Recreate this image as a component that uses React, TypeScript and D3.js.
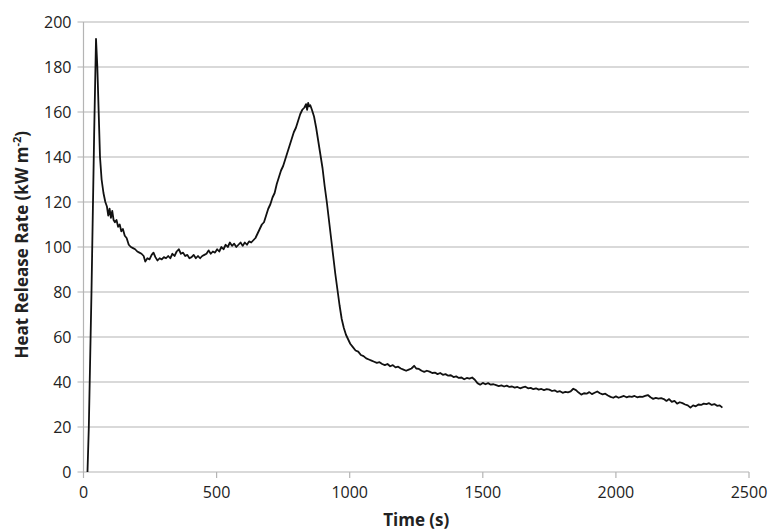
import React from 'react';
import * as d3 from 'd3';

const width = 771;
const height = 531;
const margin = {top: 22, right: 22, bottom: 59, left: 83.5};

const xTicks = [0, 500, 1000, 1500, 2000, 2500];
const yTicks = [0, 20, 40, 60, 80, 100, 120, 140, 160, 180, 200];

// time (s)
const times = [
  15, 20, 30, 40, 47, 52, 57, 62, 68, 75, 82, 88, 93, 98, 103, 108, 113, 118, 124, 130,
  136, 142, 148, 155, 162, 170, 178, 186, 194, 202, 210, 218, 226, 232, 240, 248, 256, 263, 270, 278,
  286, 294, 302, 310, 318, 326, 334, 342, 350, 358, 366, 374, 382, 390, 398, 406, 414, 422, 430, 438,
  446, 454, 462, 470, 478, 486, 494, 502, 510, 518, 526, 534, 542, 550, 558, 566, 574, 582, 590, 598,
  606, 614, 622, 630, 638, 646, 654, 662, 670, 678, 686, 694, 702, 710, 718, 726, 734, 742, 750, 758,
  766, 774, 782, 790, 798, 806, 814, 822, 830, 836, 840, 844, 848, 852, 858, 866, 874, 882, 890, 898,
  906, 914, 922, 930, 938, 946, 954, 962, 970, 978, 986, 994, 1002, 1012, 1022, 1032, 1042, 1052, 1062, 1072,
  1082, 1092, 1102, 1112, 1122, 1132, 1142, 1152, 1162, 1172, 1182, 1192, 1202, 1212, 1222, 1232, 1242, 1250, 1260, 1270,
  1280, 1290, 1300, 1310, 1320, 1330, 1340, 1350, 1360, 1370, 1380, 1390, 1400, 1410, 1420, 1430, 1440, 1450, 1460, 1470,
  1480, 1490, 1500, 1510, 1520, 1530, 1540, 1550, 1560, 1570, 1580, 1590, 1600, 1610, 1620, 1630, 1640, 1650, 1660, 1670,
  1680, 1690, 1700, 1710, 1720, 1730, 1740, 1750, 1760, 1770, 1780, 1790, 1800, 1810, 1820, 1830, 1840, 1850, 1860, 1870,
  1880, 1890, 1900, 1910, 1920, 1930, 1940, 1950, 1960, 1970, 1980, 1990, 2000, 2010, 2020, 2030, 2040, 2050, 2060, 2070,
  2080, 2090, 2100, 2110, 2120, 2130, 2140, 2150, 2160, 2170, 2180, 2190, 2200, 2210, 2220, 2230, 2240, 2250, 2260, 2270,
  2280, 2290, 2300, 2310, 2320, 2330, 2340, 2350, 2360, 2370, 2380, 2390, 2400,
];

// heat release rate (kW m-2)
const hrr = [
  0, 20, 80, 150, 192.5, 180, 160, 140, 130, 124, 120, 118, 114, 117, 113, 116, 112, 111, 112, 109,
  110, 107, 108, 105, 104, 101, 100, 99.5, 99, 98, 97.5, 97, 96, 93.5, 95, 94.5, 96.5, 97.5, 95.5, 94,
  95, 94.5, 95.5, 95, 96, 95, 97, 96, 98, 99, 97, 97.5, 96, 96.5, 95, 95.5, 96.5, 95, 96, 95,
  96, 96.5, 97, 98.5, 97, 98, 97.5, 99, 98, 100, 99, 101, 100, 102, 100.5, 101.5, 100, 101, 102, 100.5,
  102, 101, 102.5, 102, 103, 104, 106, 108, 110, 111, 114, 117, 119, 122, 124, 128, 131, 134, 136, 139,
  142, 145, 148, 151, 153, 156, 159, 161, 162, 163.5, 161, 164, 162.5, 163, 161, 158, 153, 147, 141, 135,
  127, 120, 112, 104, 96, 88, 81, 74, 68, 64, 61, 59, 57, 55.5, 54, 53.5, 52, 51.5, 50.5, 50,
  49.5, 49, 48.5, 48.8, 48, 47.5, 48, 47, 47.5, 46.5, 46.8, 46, 45.5, 45, 45.5, 46, 47.2, 46, 45.8, 45,
  44.5, 45, 44.6, 44, 44.2, 43.5, 44, 43.2, 43.5, 42.8, 43, 42.2, 42.5, 41.8, 42, 41.2, 41.8, 41.5, 42, 41,
  39.5, 38.8, 39.6, 39, 39.5, 38.8, 39, 38.6, 38.2, 38.5, 38, 38.4, 37.8, 38, 37.5, 37.8, 37.2, 37.6, 37.9, 37.2,
  37.4, 36.8, 37.2, 36.6, 36.9, 36.4, 36.8, 36.6, 36, 36.3, 35.6, 35.9, 35.2, 35.6, 35.4, 35.8, 37, 36.4, 35.3, 34.4,
  35, 34.8, 35.5, 34.6, 35.2, 35.8, 35, 34.5, 34.8, 34, 33.4, 33, 33.6, 33, 33.4, 33.8, 33.2, 33.6, 33.4, 33.8,
  33.2, 33.5, 33.4, 33.8, 34.2, 33.2, 32.5, 32.9, 32.6, 32.8, 32.4, 31.6, 32.4, 31.2, 31.6, 30.4, 31, 30.6, 30, 29.6,
  28.6, 29.6, 29.2, 30, 29.8, 30.4, 30.2, 30.6, 29.8, 30.2, 29.4, 29.6, 28.6,
];

const gridColor = '#b4b4b4';
const font = '"Open Sans", "Liberation Sans", sans-serif';

const App: React.FC = () => {
  const xScale = d3.scaleLinear()
    .domain([0, 2500])
    .range([margin.left, width - margin.right]);

  const yScale = d3.scaleLinear()
    .domain([0, 200])
    .range([height - margin.bottom, margin.top]);

  const points = times.map((t, i) => [xScale(t), yScale(hrr[i])] as [number, number]);
  const path = d3.line()(points) || '';

  const x0 = xScale(0);
  const x1 = xScale(2500);
  const yBase = yScale(0);

  return (
    <svg width={width} height={height} style={{position: 'absolute', left: 0, top: 0}}>
      <rect width={width} height={height} fill="#fff" />
      {yTicks.map(t => (
        <g key={'y' + t}>
          <line x1={x0 - 6} x2={x1} y1={yScale(t)} y2={yScale(t)} stroke={gridColor} strokeWidth={1.2} />
          <text x={x0 - 12} y={yScale(t)} dy="0.35em" textAnchor="end" fontFamily={font} fontSize={16} fill="#222">{t}</text>
        </g>
      ))}
      <line x1={x0} x2={x0} y1={yScale(200)} y2={yBase} stroke={gridColor} strokeWidth={1.2} />
      {xTicks.map(t => (
        <g key={'x' + t}>
          <line x1={xScale(t)} x2={xScale(t)} y1={yBase} y2={yBase + 6} stroke={gridColor} strokeWidth={1.2} />
          <text x={xScale(t)} y={yBase + 26} textAnchor="middle" fontFamily={font} fontSize={16} fill="#222">{t}</text>
        </g>
      ))}
      <path d={path} fill="none" stroke="#111" strokeWidth={1.8} strokeLinejoin="round" />
      <text x={(x0 + x1) / 2} y={526} textAnchor="middle" fontFamily={font} fontSize={17} fontWeight="bold" fill="#222">Time (s)</text>
      <text transform={`translate(28, ${yScale(101)}) rotate(-90)`} textAnchor="middle" fontFamily={font} fontSize={17} fontWeight="bold" fill="#222">
        Heat Release Rate (kW m<tspan dy={-7} fontSize={11}>-2</tspan><tspan dy={7}>)</tspan>
      </text>
    </svg>
  );
};

export default App;
